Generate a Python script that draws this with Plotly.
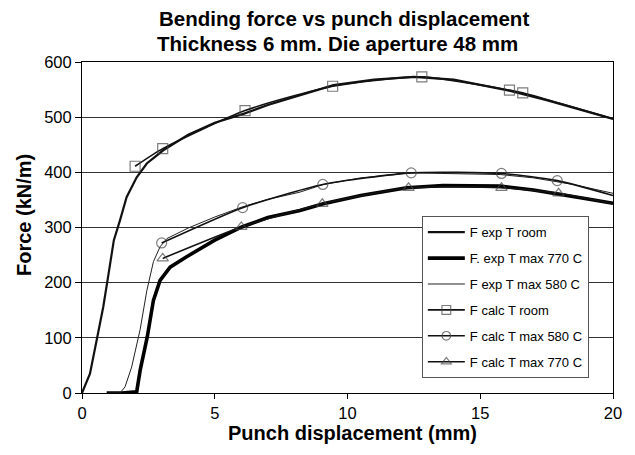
import plotly.graph_objects as go

exp_room_x = [0, 0.3, 0.55, 0.8, 1.0, 1.2, 1.43, 1.68, 2.06, 2.44, 3.06, 4.0, 5.0, 6.08, 7.0, 8.2, 9.47, 11.0, 12.5, 14.0, 16.0, 17.5, 19.0, 20.0]
exp_room_y = [0, 35, 95, 156, 216, 277, 313, 355, 391, 416, 440, 468, 490, 506, 522, 539, 558, 568, 573, 568, 549, 531, 511, 497]

exp_770_x = [0.93, 1.5, 2.06, 2.19, 2.46, 2.69, 2.94, 3.32, 3.94, 5.0, 6.02, 7.0, 8.21, 9.09, 10.5, 12.23, 13.6, 15.0, 15.75, 17.0, 17.95, 19.0, 20.0]
exp_770_y = [0, 0, 2, 41, 102, 168, 204, 228, 247, 277, 301, 318, 331, 343, 358, 372, 376, 376, 375, 368, 361, 352, 344]

exp_580_x = [1.0, 1.43, 1.62, 1.87, 2.19, 2.44, 2.69, 2.94, 3.2, 4.0, 5.0, 6.02, 7.0, 8.2, 9.09, 10.5, 12.4, 14.0, 15.75, 17.0, 18.5, 20.0]
exp_580_y = [0, 0, 11, 47, 115, 185, 238, 265, 280, 299, 319, 337, 351, 364, 378, 390, 399, 398, 396, 390, 378, 362]

calc_room_x = [2.0, 3.04, 6.14, 9.44, 12.8, 16.1, 16.6, 20.0]
calc_room_y = [411, 443, 512, 556, 573, 549, 544, 497]

calc_580_x = [3.0, 6.05, 9.07, 12.4, 15.8, 17.9, 20.0]
calc_580_y = [272, 336, 378, 399, 398, 385, 358]

calc_770_x = [3.04, 6.0, 9.05, 12.3, 15.8, 17.95, 20.0]
calc_770_y = [244, 301, 343, 372, 372, 362, 343]

names = ["F exp T room", "F. exp T max 770 C", "F exp T max 580 C",
         "F calc T room", "F calc T max 580 C", "F calc T max 770 C"]

title_lines = ["Bending force vs punch displacement", "Thickness 6 mm. Die aperture 48 mm"]

fig = go.Figure()
fig.add_trace(go.Scatter(x=exp_room_x, y=exp_room_y, mode="lines", name=names[0],
                         line=dict(color="#111", width=2.2), legendgroup="a"))
fig.add_trace(go.Scatter(x=exp_770_x, y=exp_770_y, mode="lines", name=names[1],
                         line=dict(color="#000", width=3.6), legendgroup="b"))
fig.add_trace(go.Scatter(x=exp_580_x, y=exp_580_y, mode="lines", name=names[2],
                         line=dict(color="#222", width=1), legendgroup="c"))

def calc_trace(xs, ys, name, sym, grp):
    sizes = [10] * (len(xs) - 1) + [0]
    return go.Scatter(x=xs, y=ys, mode="lines+markers", name=name, legendgroup=grp,
                      line=dict(color="#111", width=1.6, shape="spline", smoothing=0.6),
                      marker=dict(symbol=sym, size=sizes, color="#444", line=dict(width=1.2)))

fig.add_trace(calc_trace(calc_room_x, calc_room_y, names[3], "square-open", "d"))
fig.add_trace(calc_trace(calc_580_x, calc_580_y, names[4], "circle-open", "e"))
fig.add_trace(calc_trace(calc_770_x, calc_770_y, names[5], "triangle-up-open", "f"))

fig.update_layout(
    width=627, height=447,
    margin=dict(l=74, r=22, t=54, b=62),
    paper_bgcolor="white", plot_bgcolor="white",
    font=dict(family="Liberation Sans, Arial, sans-serif", color="#000"),
    showlegend=True,
    legend=dict(x=0.64, y=0.534, xanchor="left", yanchor="top",
                bgcolor="white", bordercolor="#555", borderwidth=1,
                font=dict(size=13), traceorder="grouped", tracegroupgap=6,
                itemwidth=37),
    annotations=[
        dict(text="<b>%s</b>" % title_lines[0],
             xref="paper", yref="paper", x=0.493, y=1.130, xanchor="center", yanchor="middle",
             showarrow=False, font=dict(size=20.5)),
        dict(text="<b>%s</b>" % title_lines[1],
             xref="paper", yref="paper", x=0.482, y=1.057, xanchor="center", yanchor="middle",
             showarrow=False, font=dict(size=20.5)),
        dict(text="<b>Force (kN/m)</b>", textangle=-90, xref="paper", yref="paper",
             x=-0.109, y=0.538, xanchor="center", yanchor="middle", showarrow=False,
             font=dict(size=20)),
        dict(text="<b>Punch displacement (mm)</b>", xref="paper", yref="paper",
             x=0.509, y=-0.121, xanchor="center", yanchor="middle", showarrow=False,
             font=dict(size=20)),
    ],
)
fig.update_xaxes(range=[0, 20], tickvals=[0, 5, 10, 15, 20], showgrid=False,
                 showline=True, linecolor="#000", linewidth=1, mirror=True,
                 ticks="outside", ticklen=5, tickcolor="#000", zeroline=False,
                 tickfont=dict(size=16.5))
fig.update_yaxes(range=[0, 600], tickvals=[0, 100, 200, 300, 400, 500, 600],
                 showgrid=True, gridcolor="#333", gridwidth=1,
                 showline=True, linecolor="#000", linewidth=1, mirror=True,
                 ticks="outside", ticklen=6, tickcolor="#000", zeroline=False,
                 tickfont=dict(size=16.5))

fig.write_html("out.html")
